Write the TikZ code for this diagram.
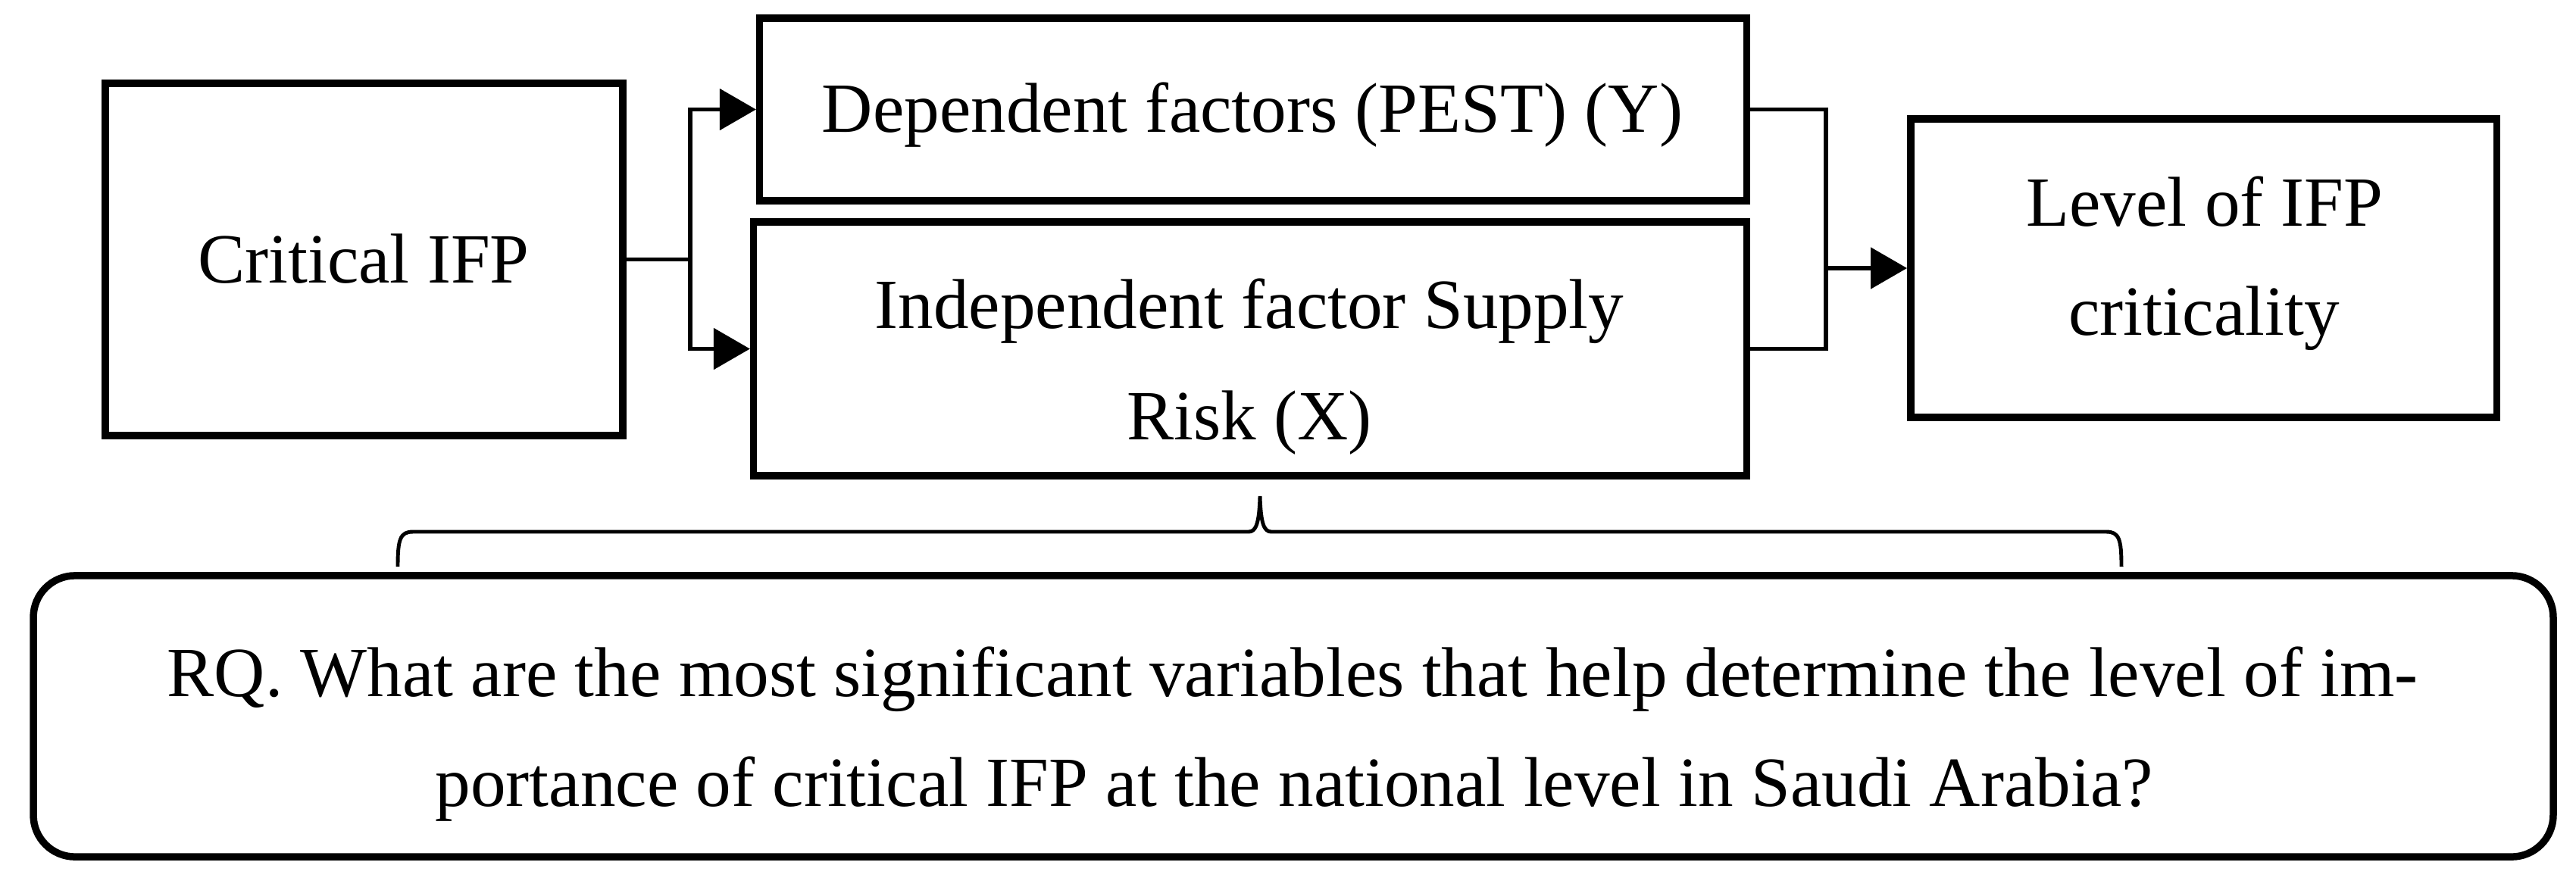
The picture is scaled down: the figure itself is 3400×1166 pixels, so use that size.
\documentclass[tikz,border=0pt]{standalone}
\usepackage{fontspec}
\setmainfont{Liberation Serif}
\usetikzlibrary{arrows.meta}
\begin{document}
\begin{tikzpicture}[x=0.01cm, y=-0.01cm,
  box/.style={draw=black, line width=2.7pt, rectangle, inner sep=0pt},
  txt/.style={inner sep=0pt, font=\fontsize{26.5}{30}\selectfont, anchor=base},
  conn/.style={draw=black, line width=1.5pt},
  arr/.style={conn, -{Triangle[length=0.48cm, width=0.54cm]}},
  bracestyle/.style={draw=black, line width=1.4pt},
]
\fill[white] (0,0) rectangle (3400,1166);
\useasboundingbox (0,0) rectangle (3400,1166);

% boxes
\node[box, minimum width=6.83cm, minimum height=4.65cm] (crit) at (480.5,342.5) {};
\node[box, minimum width=13.02cm, minimum height=2.41cm] (dep) at (1654,144.5) {};
\node[box, minimum width=13.10cm, minimum height=3.35cm] (ind) at (1650,460.5) {};
\node[box, minimum width=7.73cm, minimum height=3.94cm] (lev) at (2908.5,354) {};
\node[box, rounded corners=0.55cm, minimum width=33.24cm, minimum height=3.71cm] (rq) at (1707,945.5) {};

% texts
\node[txt] (critT) at (480,373) {Critical IFP};
\node[txt] (depT) at (1653,174) {Dependent factors (PEST) (Y)};
\node[txt] (indT1) at (1649,433) {Independent factor Supply};
\node[txt] (indT2) at (1649,580) {Risk (X)};
\node[txt] (levT1) at (2910,298) {Level of IFP};
\node[txt] (levT2) at (2909,442) {criticality};
\node[txt] (rqT1) at (1706,919) {RQ. What are the most significant variables that help determine the level of im-};
\node[txt] (rqT2) at (1708,1064) {portance of critical IFP at the national level in Saudi Arabia?};

% connectors
\coordinate (j1) at (911,342.5);
\draw[conn] (crit.east) -- (j1);
\draw[arr] (j1) |- (dep.west);
\draw[arr] (j1) |- (ind.west);

\coordinate (j2) at (2410,354);
\draw[conn] (dep.east) -| (j2) |- (ind.east);
\draw[arr] (j2) -- (lev.west);

% brace
\draw[bracestyle] (525,748) .. controls (525,712) and (528,702) .. (545,702)
  -- (1648,702) .. controls (1658,702) and (1662,690) .. (1663,655)
  .. controls (1664,690) and (1668,702) .. (1678,702)
  -- (2780,702) .. controls (2797,702) and (2800,712) .. (2800,748);
\end{tikzpicture}
\end{document}
